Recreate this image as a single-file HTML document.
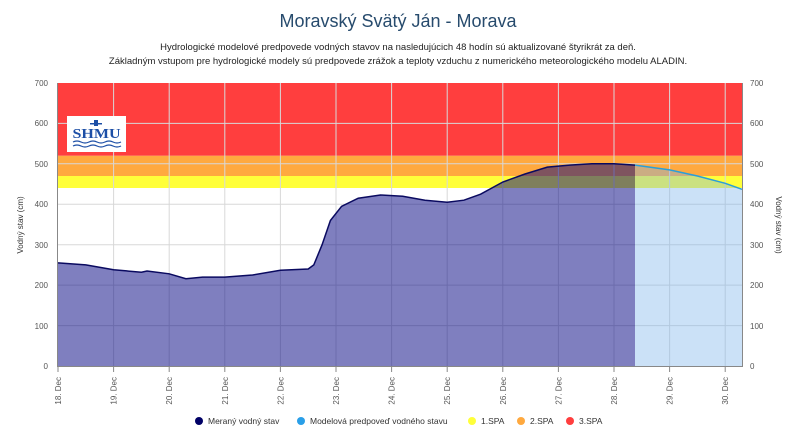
<!DOCTYPE html>
<html><head><meta charset="utf-8"><style>
body{margin:0;background:#fff;width:796px;height:434px;overflow:hidden;font-family:"Liberation Sans",sans-serif}
</style></head><body>
<svg width="796" height="434" xmlns="http://www.w3.org/2000/svg" font-family="Liberation Sans, sans-serif">
<text x="398" y="27" text-anchor="middle" font-size="18" fill="#274b6d">Moravský Svätý Ján - Morava</text>
<text x="398" y="50" text-anchor="middle" font-size="9.5" fill="#222">Hydrologické modelové predpovede vodných stavov na nasledujúcich 48 hodín sú aktualizované štyrikrát za deň.</text>
<text x="398" y="64" text-anchor="middle" font-size="9.5" fill="#222">Základným vstupom pre hydrologické modely sú predpovede zrážok a teploty vzduchu z numerického meteorologického modelu ALADIN.</text>
<rect x="58" y="83" width="684" height="72.8" fill="#ff3e3e"/>
<rect x="58" y="155.8" width="684" height="20.2" fill="#ffa93f"/>
<rect x="58" y="176" width="684" height="12" fill="#ffff3a"/>
<g stroke="#d8d8d8" stroke-width="1">
<line x1="58" x2="742" y1="123.4" y2="123.4"/><line x1="58" x2="742" y1="163.8" y2="163.8"/>
<line x1="58" x2="742" y1="204.3" y2="204.3"/><line x1="58" x2="742" y1="244.7" y2="244.7"/>
<line x1="58" x2="742" y1="285.1" y2="285.1"/><line x1="58" x2="742" y1="325.6" y2="325.6"/>
<line x1="113.6" x2="113.6" y1="83" y2="366"/><line x1="169.2" x2="169.2" y1="83" y2="366"/>
<line x1="224.8" x2="224.8" y1="83" y2="366"/><line x1="280.4" x2="280.4" y1="83" y2="366"/>
<line x1="336" x2="336" y1="83" y2="366"/><line x1="391.6" x2="391.6" y1="83" y2="366"/>
<line x1="447.2" x2="447.2" y1="83" y2="366"/><line x1="502.8" x2="502.8" y1="83" y2="366"/>
<line x1="558.4" x2="558.4" y1="83" y2="366"/><line x1="614" x2="614" y1="83" y2="366"/>
<line x1="669.6" x2="669.6" y1="83" y2="366"/><line x1="725.2" x2="725.2" y1="83" y2="366"/>
</g>
<polygon points="635,165.1 669.6,169.9 697.4,176 725.2,183.3 742,189.3 742,366 635,366" fill="#7cb5ec" fill-opacity="0.4"/>
<polyline points="635,165.1 669.6,169.9 697.4,176 725.2,183.3 742,189.3" fill="none" stroke="#2a9fd8" stroke-width="1.5"/>
<polygon points="58,262.9 85.8,264.9 113.6,269.8 141.4,272.2 147,271 169.2,273.8 185.9,278.7 202.6,277.1 224.8,277.1 252.6,275 280.4,270.2 308.2,269 313.8,264.9 322.1,244.7 330.4,220.5 341.6,206.3 358.2,198.2 380.5,195 402.7,196.2 425,200.2 447.2,202.3 463.9,200.2 480.6,194.2 502.8,182 525,174 547.3,167.1 569.5,165.1 591.8,163.8 614,163.8 635,165.1 635,366 58,366" fill="#000080" fill-opacity="0.5"/>
<polyline points="58,262.9 85.8,264.9 113.6,269.8 141.4,272.2 147,271 169.2,273.8 185.9,278.7 202.6,277.1 224.8,277.1 252.6,275 280.4,270.2 308.2,269 313.8,264.9 322.1,244.7 330.4,220.5 341.6,206.3 358.2,198.2 380.5,195 402.7,196.2 425,200.2 447.2,202.3 463.9,200.2 480.6,194.2 502.8,182 525,174 547.3,167.1 569.5,165.1 591.8,163.8 614,163.8 635,165.1" fill="none" stroke="#0a0a60" stroke-width="1.5"/>
<line x1="57.5" x2="57.5" y1="83" y2="366" stroke="#888"/>
<line x1="742.5" x2="742.5" y1="83" y2="366" stroke="#888"/>
<line x1="57" x2="743" y1="366.5" y2="366.5" stroke="#888"/>
<rect x="67" y="116" width="59" height="36" fill="#fff"/>
<text x="96.5" y="138" text-anchor="middle" font-size="14" font-weight="bold" fill="#1d4fa6" font-family="Liberation Serif, serif" textLength="48" lengthAdjust="spacingAndGlyphs">SHMU</text>
<path d="M73 142 q4 -2 8 0 t8 0 t8 0 t8 0 t8 0 t8 0 M73 146 q4 -2 8 0 t8 0 t8 0 t8 0 t8 0 t8 0" stroke="#1d4fa6" fill="none" stroke-width="1.2"/>
<rect x="94" y="120" width="4" height="6" fill="#1d4fa6"/><rect x="90" y="123" width="12" height="1.5" fill="#1d4fa6"/>
<g font-size="8" fill="#555" text-anchor="end">
<text x="48" y="86">700</text><text x="48" y="126">600</text><text x="48" y="167">500</text><text x="48" y="207">400</text><text x="48" y="248">300</text><text x="48" y="288">200</text><text x="48" y="329">100</text><text x="48" y="369">0</text>
</g>
<g font-size="8" fill="#555" text-anchor="start">
<text x="750" y="86">700</text><text x="750" y="126">600</text><text x="750" y="167">500</text><text x="750" y="207">400</text><text x="750" y="248">300</text><text x="750" y="288">200</text><text x="750" y="329">100</text><text x="750" y="369">0</text>
</g>
<text transform="translate(23,225) rotate(-90)" font-size="8" fill="#333" text-anchor="middle">Vodný stav (cm)</text>
<text transform="translate(776,225) rotate(90)" font-size="8" fill="#333" text-anchor="middle">Vodný stav (cm)</text>
<g stroke="#888"><line x1="58" x2="58" y1="366" y2="372"/><line x1="113.6" x2="113.6" y1="366" y2="372"/><line x1="169.2" x2="169.2" y1="366" y2="372"/><line x1="224.8" x2="224.8" y1="366" y2="372"/><line x1="280.4" x2="280.4" y1="366" y2="372"/><line x1="336" x2="336" y1="366" y2="372"/><line x1="391.6" x2="391.6" y1="366" y2="372"/><line x1="447.2" x2="447.2" y1="366" y2="372"/><line x1="502.8" x2="502.8" y1="366" y2="372"/><line x1="558.4" x2="558.4" y1="366" y2="372"/><line x1="614" x2="614" y1="366" y2="372"/><line x1="669.6" x2="669.6" y1="366" y2="372"/><line x1="725.2" x2="725.2" y1="366" y2="372"/></g>
<g font-size="8" fill="#555" text-anchor="end">
<text transform="translate(61,377) rotate(-90)">18. Dec</text>
<text transform="translate(116.6,377) rotate(-90)">19. Dec</text>
<text transform="translate(172.2,377) rotate(-90)">20. Dec</text>
<text transform="translate(227.8,377) rotate(-90)">21. Dec</text>
<text transform="translate(283.4,377) rotate(-90)">22. Dec</text>
<text transform="translate(339,377) rotate(-90)">23. Dec</text>
<text transform="translate(394.6,377) rotate(-90)">24. Dec</text>
<text transform="translate(450.2,377) rotate(-90)">25. Dec</text>
<text transform="translate(505.8,377) rotate(-90)">26. Dec</text>
<text transform="translate(561.4,377) rotate(-90)">27. Dec</text>
<text transform="translate(617,377) rotate(-90)">28. Dec</text>
<text transform="translate(672.6,377) rotate(-90)">29. Dec</text>
<text transform="translate(728.2,377) rotate(-90)">30. Dec</text>
</g>
<g font-size="8.5" fill="#333">
<circle cx="199" cy="421" r="4" fill="#000066"/><text x="208" y="424">Meraný vodný stav</text>
<circle cx="301" cy="421" r="4" fill="#2a9fe8"/><text x="310" y="424">Modelová predpoveď vodného stavu</text>
<circle cx="472" cy="421" r="4" fill="#ffff3a"/><text x="481" y="424">1.SPA</text>
<circle cx="521" cy="421" r="4" fill="#ffa93f"/><text x="530" y="424">2.SPA</text>
<circle cx="570" cy="421" r="4" fill="#ff3e3e"/><text x="579" y="424">3.SPA</text>
</g>
</svg>
</body></html>
